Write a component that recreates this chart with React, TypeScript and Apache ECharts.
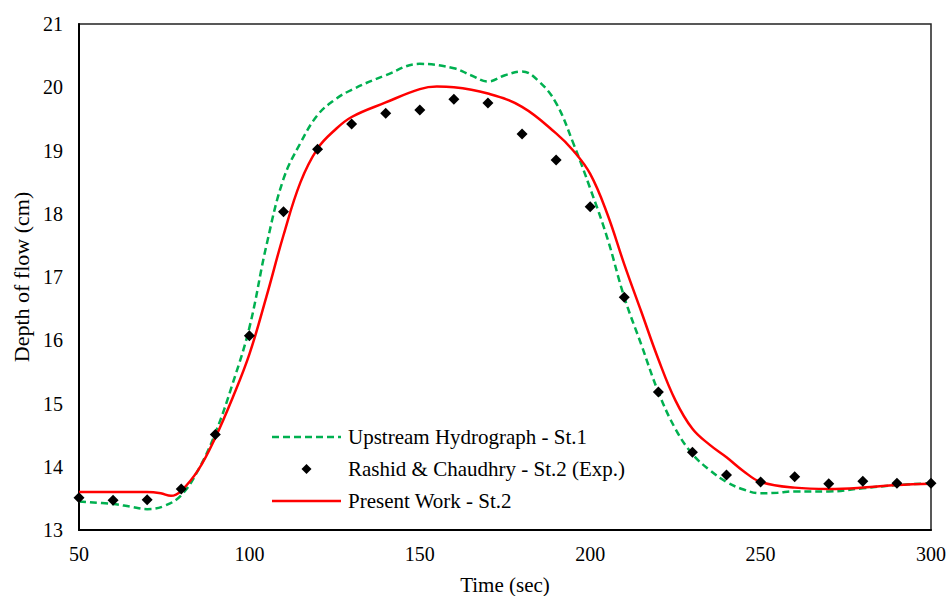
import React, { useEffect, useRef } from "react";
import * as echarts from "echarts";

const FONT = "'Times New Roman', 'Liberation Serif', serif";

const seriesNames = [
  "Upstream Hydrograph - St.1",
  "Rashid & Chaudhry - St.2 (Exp.)",
  "Present Work - St.2",
];

const upstreamTime = [50, 60, 65, 70, 75, 80, 85, 90, 95, 100, 105, 110, 115, 120, 125, 130, 140, 150, 160, 165, 170, 175, 180, 185, 190, 195, 200, 205, 210, 215, 220, 225, 230, 235, 240, 245, 250, 255, 260, 270, 280, 290, 300];
const upstreamDepth = [13.45, 13.41, 13.37, 13.33, 13.38, 13.55, 13.95, 14.53, 15.3, 16.2, 17.5, 18.55, 19.12, 19.56, 19.8, 19.96, 20.19, 20.37, 20.3, 20.19, 20.09, 20.19, 20.25, 20.09, 19.75, 19.12, 18.4, 17.62, 16.68, 15.93, 15.18, 14.6, 14.2, 13.95, 13.76, 13.64, 13.58, 13.59, 13.61, 13.61, 13.66, 13.71, 13.74];

const expTime = [50, 60, 70, 80, 90, 100, 110, 120, 130, 140, 150, 160, 170, 180, 190, 200, 210, 220, 230, 240, 250, 260, 270, 280, 290, 300];
const expDepth = [13.51, 13.47, 13.48, 13.65, 14.51, 16.07, 18.03, 19.02, 19.42, 19.59, 19.64, 19.81, 19.75, 19.26, 18.85, 18.11, 16.68, 15.18, 14.23, 13.87, 13.76, 13.84, 13.73, 13.77, 13.74, 13.74];

const presentTime = [50, 60, 70, 74, 77, 80, 85, 90, 95, 100, 105, 110, 115, 120, 125, 130, 140, 150, 155, 160, 170, 180, 190, 195, 200, 205, 210, 215, 220, 225, 230, 235, 240, 245, 250, 260, 270, 280, 290, 300];
const presentDepth = [13.6, 13.6, 13.6, 13.58, 13.54, 13.62, 13.95, 14.46, 15.08, 15.78, 16.69, 17.66, 18.5, 19.03, 19.32, 19.53, 19.76, 19.97, 20.01, 20.0, 19.9, 19.69, 19.27, 19.0, 18.63, 18.0, 17.2, 16.45, 15.7, 15.05, 14.6, 14.35, 14.15, 13.93, 13.76, 13.67, 13.65, 13.67, 13.71, 13.73];

const xTicks = { min: 50, max: 300, interval: 50 };
const yTicks = { min: 13, max: 21, interval: 1 };

const zip = (xs: number[], ys: number[]) => xs.map((x, i) => [x, ys[i]]);

// legend icon shapes
const dashedIcon = (() => {
  let d = "";
  for (let x = 0; x < 69; x += 11) {
    const e = Math.min(x + 7, 69);
    d += `M${x},0H${e}V2.5H${x}Z`;
  }
  return "path://" + d;
})();
const solidIcon = "path://M0,0H69V2.5H0Z";
const diamondIcon = "path://M5,0L10,5L5,10L0,5Z";

export default function App() {
  const ref = useRef<HTMLDivElement>(null);
  useEffect(() => {
    if (!ref.current) return;
    const chart = echarts.init(ref.current, undefined, { renderer: "svg" });
    const axisLabel = { color: "#000", fontFamily: FONT, fontSize: 20 };
    chart.setOption({
      animation: false,
      backgroundColor: "#fff",
      textStyle: { fontFamily: FONT },
      grid: {
        left: 79,
        right: 15,
        top: 24,
        bottom: 66,
        show: true,
        borderColor: "#222",
        borderWidth: 1.5,
        containLabel: false,
        outerBoundsMode: "none",
      },
      xAxis: {
        type: "value",
        min: xTicks.min,
        max: xTicks.max,
        interval: xTicks.interval,
        name: "Time (sec)",
        nameLocation: "middle",
        nameGap: 44,
        nameTextStyle: { color: "#000", fontFamily: FONT, fontSize: 21 },
        axisLine: { show: true, lineStyle: { color: "#000", width: 2 } },
        axisTick: { show: false },
        splitLine: { show: false },
        axisLabel: { ...axisLabel, margin: 14 },
      },
      yAxis: {
        type: "value",
        min: yTicks.min,
        max: yTicks.max,
        interval: yTicks.interval,
        name: "Depth of flow (cm)",
        nameLocation: "middle",
        nameGap: 42,
        nameTextStyle: { color: "#000", fontFamily: FONT, fontSize: 22 },
        axisLine: { show: true, lineStyle: { color: "#000", width: 2 } },
        axisTick: { show: false },
        splitLine: { show: false },
        axisLabel: { ...axisLabel, margin: 16 },
      },
      legend: {
        orient: "vertical",
        left: 272,
        top: 426,
        padding: 0,
        itemWidth: 69,
        itemHeight: 10,
        itemGap: 10,
        symbolKeepAspect: true,
        data: [
          { name: seriesNames[0], icon: dashedIcon },
          { name: seriesNames[1], icon: diamondIcon },
          { name: seriesNames[2], icon: solidIcon },
        ],
        textStyle: {
          color: "#000",
          fontFamily: FONT,
          fontSize: 21,
          lineHeight: 22,
          padding: [0, 0, 0, 2],
        },
      },
      series: [
        {
          name: seriesNames[0],
          type: "line",
          smooth: 0.4,
          symbol: "none",
          data: zip(upstreamTime, upstreamDepth),
          lineStyle: { color: "#00B050", width: 2.5, type: [7, 4] },
          itemStyle: { color: "#00B050" },
          z: 2,
        },
        {
          name: seriesNames[1],
          type: "scatter",
          symbol: "diamond",
          symbolSize: 11,
          data: zip(expTime, expDepth),
          itemStyle: { color: "#000", opacity: 1 },
          z: 4,
        },
        {
          name: seriesNames[2],
          type: "line",
          smooth: 0.4,
          symbol: "none",
          data: zip(presentTime, presentDepth),
          lineStyle: { color: "#FF0000", width: 2.5 },
          itemStyle: { color: "#FF0000" },
          z: 3,
        },
      ],
    });
    return () => chart.dispose();
  }, []);
  return (
    <div
      ref={ref}
      style={{ position: "fixed", left: 0, top: 0, width: 946, height: 596 }}
    />
  );
}
